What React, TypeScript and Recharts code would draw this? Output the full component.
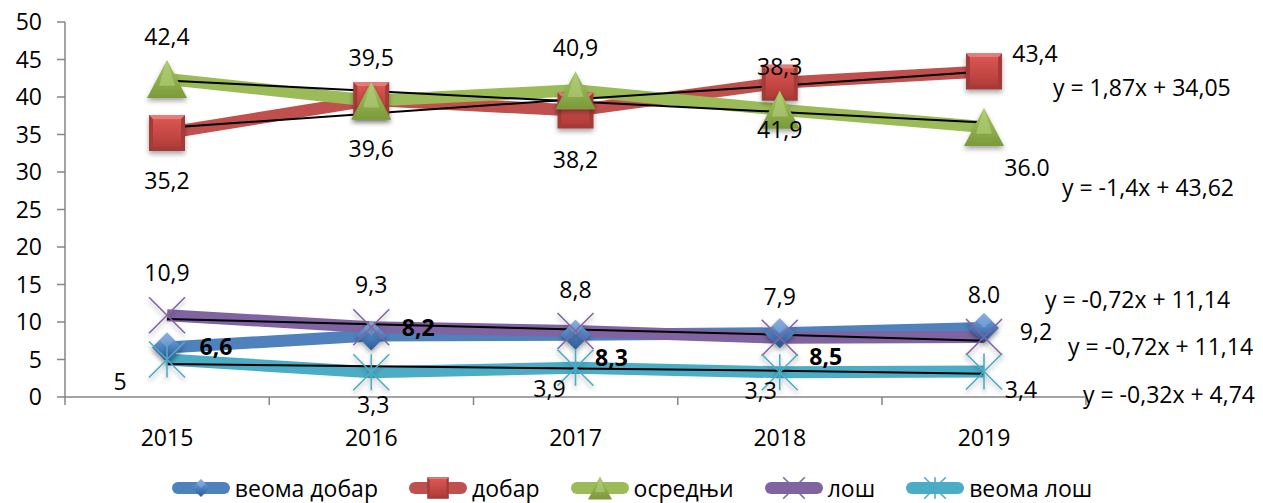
import React from 'react';
import { LineChart, Line, XAxis, YAxis, LabelList } from 'recharts';

// Years on the category axis
const years = ['2015', '2016', '2017', '2018', '2019'];

// Series values
const veomaDobar = [6.6, 8.2, 8.3, 8.5, 9.2];
const dobar = [35.2, 39.6, 38.2, 41.9, 43.4];
const osrednji = [42.4, 39.5, 40.9, 38.3, 36.0];
const los = [10.9, 9.3, 8.8, 7.9, 8.0];
const veomaLos = [5, 3.3, 3.9, 3.3, 3.4];

// Trend lines as drawn (black thin lines)
const trendDobar = [35.9, 37.8, 39.7, 41.5, 43.4];
const trendOsrednji = [42.2, 40.8, 39.4, 38.0, 36.6];
const trendLos = [10.4, 9.7, 9.0, 8.3, 7.5];
const trendVeomaLos = [4.4, 4.1, 3.8, 3.5, 3.1];

// Data label texts as printed
const veomaDobarLabels = ['6,6', '8,2', '8,3', '8,5', '9,2'];
const dobarLabels = ['35,2', '39,6', '38,2', '41,9', '43,4'];
const osrednjiLabels = ['42,4', '39,5', '40,9', '38,3', '36.0'];
const losLabels = ['10,9', '9,3', '8,8', '7,9', '8.0'];
const veomaLosLabels = ['5', '3,3', '3,9', '3,3', '3,4'];

// Trend line equations
const eqDobar = ['y = 1,87x + 34,05'];
const eqOsrednji = ['y = -1,4x + 43,62'];
const eqLos = ['y = -0,72x + 11,14', 'y = -0,72x + 11,14'];
const eqVeomaLos = ['y = -0,32x + 4,74'];

const yTicks = [0, 5, 10, 15, 20, 25, 30, 35, 40, 45, 50];

const data = years.map((year, i) => ({
  year,
  veomaDobar: veomaDobar[i],
  dobar: dobar[i],
  osrednji: osrednji[i],
  los: los[i],
  veomaLos: veomaLos[i],
  trendDobar: trendDobar[i],
  trendOsrednji: trendOsrednji[i],
  trendLos: trendLos[i],
  trendVeomaLos: trendVeomaLos[i],
}));

const FONT = '"Open Sans", "Noto Sans", sans-serif';
const FS = 23;
const COLORS = {
  blue: '#4F81BD',
  red: '#C0504D',
  green: '#9BBB59',
  purple: '#8064A2',
  cyan: '#4BACC6',
};

// label offsets from each point (dx, dy)
const offBlue = [[49, -2], [47, -9], [36, 22], [46, 23], [52, 3]];
const offRed = [[0, 47], [0, 48], [0, 48], [0, 46], [51, -19]];
const offGreen = [[0, -43], [0, -44], [0, -43], [0, -44], [43, 40]];
const offPurple = [[0, -43], [0, -43], [0, -42], [0, -42], [0, -43]];
const offCyan = [[-47, 21], [2, 32], [-26, 20], [-19, 18], [37, 17]];
const boldBlue = [true, true, true, true, false];

type Shape = 'diamond' | 'square' | 'triangle' | 'x' | 'star';

const Marker = ({ shape, cx, cy, s = 1 }: { shape: Shape; cx: number; cy: number; s?: number }) => {
  if (shape === 'diamond') {
    const r = 15 * s;
    return (
      <g filter={s === 1 ? 'url(#mshadow)' : undefined}>
        <polygon points={`${cx},${cy - r} ${cx + r},${cy} ${cx},${cy + r} ${cx - r},${cy}`} fill="url(#gBlue)" />
        <polygon points={`${cx},${cy - r} ${cx + r * 0.5},${cy - r * 0.5} ${cx},${cy} ${cx - r * 0.5},${cy - r * 0.5}`} fill="#8DB3E2" opacity={0.5} />
      </g>
    );
  }
  if (shape === 'square') {
    const r = 18 * s;
    const i = 4 * s;
    return (
      <g filter={s === 1 ? 'url(#mshadow)' : undefined}>
        <rect x={cx - r} y={cy - r} width={2 * r} height={2 * r} fill="#A33B38" />
        <polygon points={`${cx - r},${cy - r} ${cx + r},${cy - r} ${cx + r - i},${cy - r + i} ${cx - r + i},${cy - r + i}`} fill="#E47C79" />
        <rect x={cx - r + i} y={cy - r + i} width={2 * (r - i)} height={2 * (r - i)} fill="url(#gRed)" />
      </g>
    );
  }
  if (shape === 'triangle') {
    const w = 20 * s;
    const h = 19 * s;
    return (
      <g filter={s === 1 ? 'url(#mshadow)' : undefined}>
        <polygon points={`${cx},${cy - h} ${cx + w},${cy + h} ${cx - w},${cy + h}`} fill="url(#gGreen)" />
        <polygon points={`${cx},${cy - h} ${cx + w * 0.4},${cy + h * 0.35} ${cx - w * 0.4},${cy + h * 0.35}`} fill="#B5CF7F" opacity={0.6} />
      </g>
    );
  }
  const r = 18 * s;
  const color = shape === 'x' ? COLORS.purple : COLORS.cyan;
  return (
    <g stroke={color} strokeWidth={1.6} filter={s === 1 ? 'url(#mshadow)' : undefined}>
      <line x1={cx - r} y1={cy - r} x2={cx + r} y2={cy + r} />
      <line x1={cx - r} y1={cy + r} x2={cx + r} y2={cy - r} />
      {shape === 'star' && <line x1={cx} y1={cy - r} x2={cx} y2={cy + r} />}
    </g>
  );
};

const dotFor = (shape: Shape) => (props: any) => (
  <Marker key={`${shape}-${props.index}`} shape={shape} cx={props.cx} cy={props.cy} />
);

const labelFor = (texts: string[], offsets: number[][], bold?: boolean[]) => (props: any) => {
  const { x, y, index } = props;
  const [dx, dy] = offsets[index];
  return (
    <text
      x={x + dx}
      y={y + dy}
      textAnchor="middle"
      dominantBaseline="central"
      fontFamily={FONT}
      fontSize={FS}
      fontWeight={bold && bold[index] ? 700 : 400}
      fill="#000"
    >
      {texts[index]}
    </text>
  );
};

// equation text placed from the end of its trend line
const eqFor = (texts: string[], offsets: number[][]) => (props: any) => {
  const { x, y, index } = props;
  if (index !== years.length - 1) return null;
  return (
    <g>
      {texts.map((t, k) => (
        <text
          key={k}
          x={x + offsets[k][0]}
          y={y + offsets[k][1]}
          dominantBaseline="central"
          fontFamily={FONT}
          fontSize={FS}
          fill="#000"
        >
          {t}
        </text>
      ))}
    </g>
  );
};

const HALF_STEP = 102;

const XTick = (props: any) => {
  const { x, y, payload, index } = props;
  return (
    <g>
      <line x1={x - HALF_STEP} y1={y} x2={x - HALF_STEP} y2={y + 8} stroke="#868686" strokeWidth={1.5} />
      {index === years.length - 1 && (
        <line x1={x + HALF_STEP} y1={y} x2={x + HALF_STEP} y2={y + 8} stroke="#868686" strokeWidth={1.5} />
      )}
      <text x={x} y={y + 40} textAnchor="middle" dominantBaseline="central" fontFamily={FONT} fontSize={FS} fill="#000">
        {payload.value}
      </text>
    </g>
  );
};

const legendItems: { name: string; color: string; shape: Shape }[] = [
  { name: 'веома добар', color: COLORS.blue, shape: 'diamond' },
  { name: 'добар', color: COLORS.red, shape: 'square' },
  { name: 'осредњи', color: COLORS.green, shape: 'triangle' },
  { name: 'лош', color: COLORS.purple, shape: 'x' },
  { name: 'веома лош', color: COLORS.cyan, shape: 'star' },
];

const lineProps = {
  type: 'linear' as const,
  strokeWidth: 12,
  strokeLinejoin: 'round' as const,
  isAnimationActive: false,
};

const trendProps = {
  type: 'linear' as const,
  stroke: '#000',
  strokeWidth: 2,
  dot: false,
  activeDot: false,
  isAnimationActive: false,
};

export default function App() {
  return (
    <div style={{ position: 'absolute', left: 0, top: 0, width: 1263, height: 503, background: '#fff', overflow: 'hidden' }}>
      <svg width={0} height={0} style={{ position: 'absolute' }}>
        <defs>
          <linearGradient id="gBlue" x1="0" y1="0" x2="0" y2="1">
            <stop offset="0%" stopColor="#7FA8DC" />
            <stop offset="55%" stopColor="#4A7EBF" />
            <stop offset="100%" stopColor="#2B5A94" />
          </linearGradient>
          <linearGradient id="gRed" x1="0" y1="0" x2="0" y2="1">
            <stop offset="0%" stopColor="#DA5652" />
            <stop offset="100%" stopColor="#B23C39" />
          </linearGradient>
          <linearGradient id="gGreen" x1="0" y1="0" x2="0" y2="1">
            <stop offset="0%" stopColor="#A6C663" />
            <stop offset="100%" stopColor="#7A9A3A" />
          </linearGradient>
          <filter id="mshadow" x="-50%" y="-50%" width="200%" height="200%">
            <feDropShadow dx="0" dy="3" stdDeviation="2.5" floodColor="#000" floodOpacity="0.35" />
          </filter>
        </defs>
      </svg>
      <LineChart width={1263} height={503} data={data} margin={{ top: 22, right: 177, left: 0, bottom: 56 }}>
        <XAxis
          dataKey="year"
          padding={{ left: HALF_STEP, right: HALF_STEP }}
          axisLine={{ stroke: '#868686', strokeWidth: 1.5 }}
          tickLine={false}
          tickSize={0}
          tickMargin={0}
          height={50}
          tick={<XTick />}
          interval={0}
        />
        <YAxis
          domain={[0, 50]}
          ticks={yTicks}
          width={65}
          axisLine={{ stroke: '#868686', strokeWidth: 1.5 }}
          tickLine={{ stroke: '#868686', strokeWidth: 1.5 }}
          tickSize={8}
          tickMargin={15}
          tick={{ fill: '#000', fontSize: FS, fontFamily: FONT }}
          interval={0}
        />
        <Line {...lineProps} dataKey="veomaDobar" stroke={COLORS.blue} dot={dotFor('diamond')} activeDot={false}>
          <LabelList dataKey="veomaDobar" content={labelFor(veomaDobarLabels, offBlue, boldBlue)} />
        </Line>
        <Line {...lineProps} dataKey="dobar" stroke={COLORS.red} dot={dotFor('square')} activeDot={false}>
          <LabelList dataKey="dobar" content={labelFor(dobarLabels, offRed)} />
        </Line>
        <Line {...lineProps} dataKey="osrednji" stroke={COLORS.green} dot={dotFor('triangle')} activeDot={false}>
          <LabelList dataKey="osrednji" content={labelFor(osrednjiLabels, offGreen)} />
        </Line>
        <Line {...lineProps} dataKey="los" stroke={COLORS.purple} dot={dotFor('x')} activeDot={false}>
          <LabelList dataKey="los" content={labelFor(losLabels, offPurple)} />
        </Line>
        <Line {...lineProps} dataKey="veomaLos" stroke={COLORS.cyan} dot={dotFor('star')} activeDot={false}>
          <LabelList dataKey="veomaLos" content={labelFor(veomaLosLabels, offCyan)} />
        </Line>
        <Line {...trendProps} dataKey="trendDobar">
          <LabelList dataKey="trendDobar" content={eqFor(eqDobar, [[69, 15]])} />
        </Line>
        <Line {...trendProps} dataKey="trendOsrednji">
          <LabelList dataKey="trendOsrednji" content={eqFor(eqOsrednji, [[78, 64]])} />
        </Line>
        <Line {...trendProps} dataKey="trendLos">
          <LabelList dataKey="trendLos" content={eqFor(eqLos, [[61, -42], [84, 5]])} />
        </Line>
        <Line {...trendProps} dataKey="trendVeomaLos">
          <LabelList dataKey="trendVeomaLos" content={eqFor(eqVeomaLos, [[99, 20]])} />
        </Line>
      </LineChart>
      <div
        style={{
          position: 'absolute',
          left: 0,
          top: 473,
          width: 1263,
          display: 'flex',
          justifyContent: 'center',
          gap: 30,
          fontFamily: FONT,
          fontSize: FS,
          lineHeight: '30px',
          color: '#000',
        }}
      >
        {legendItems.map((it) => (
          <div key={it.name} style={{ display: 'flex', alignItems: 'center' }}>
            <svg width={60} height={30}>
              <rect x={1} y={9} width={58} height={12} rx={6} fill={it.color} />
              <Marker shape={it.shape} cx={30} cy={15} s={0.6} />
            </svg>
            <span style={{ marginLeft: 4 }}>{it.name}</span>
          </div>
        ))}
      </div>
    </div>
  );
}
